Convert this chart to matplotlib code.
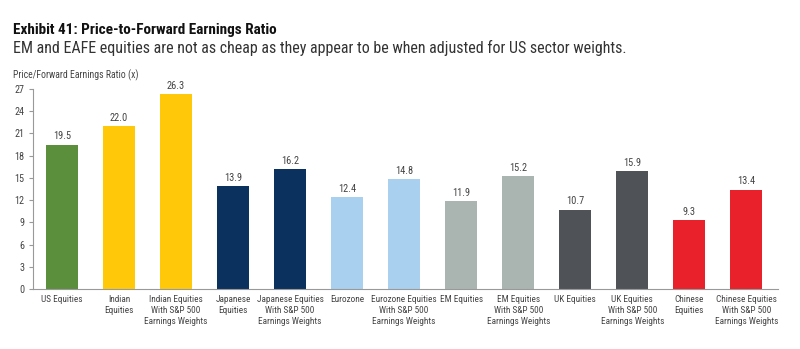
import matplotlib
matplotlib.use('Agg')
import matplotlib.pyplot as plt

plt.rcParams['font.family'] = ['Roboto Condensed', 'DejaVu Sans']

categories = ['US Equities', 'Indian\nEquities', 'Indian Equities\nWith S&P 500\nEarnings Weights',
              'Japanese\nEquities', 'Japanese Equities\nWith S&P 500\nEarnings Weights',
              'Eurozone', 'Eurozone Equities\nWith S&P 500\nEarnings Weights',
              'EM Equities', 'EM Equities\nWith S&P 500\nEarnings Weights',
              'UK Equities', 'UK Equities\nWith S&P 500\nEarnings Weights',
              'Chinese\nEquities', 'Chinese Equities\nWith S&P 500\nEarnings Weights']
pe_ratio = [19.5, 22.0, 26.3, 13.9, 16.2, 12.4, 14.8, 11.9, 15.2, 10.7, 15.9, 9.3, 13.4]
colors = ['#5b8f3b', '#ffc90a', '#ffc90a', '#0b315e', '#0b315e', '#a9d1ef', '#a9d1ef',
          '#aab5b1', '#aab5b1', '#4f5358', '#4f5358', '#e8212b', '#e8212b']
yticks = [0, 3, 6, 9, 12, 15, 18, 21, 24, 27]

fig = plt.figure(figsize=(8, 3.49), dpi=100)
ax = fig.add_axes([0.041, 0.172, 0.932, 0.573])

x = range(len(categories))
ax.bar(x, pe_ratio, width=0.56, color=colors)
for xi, v in zip(x, pe_ratio):
    ax.text(xi, v + 0.45, '%.1f' % v, ha='center', va='bottom', fontsize=7.5, color='#444444')

ax.set_xlim(-0.51, 12.56)
ax.set_ylim(0, 27)
ax.set_yticks(yticks)
ax.set_yticklabels([str(t) for t in yticks], fontsize=7.3, color='#444444')
ax.set_xticks(list(x))
ax.set_xticklabels(categories, fontsize=6.7, color='#444444', linespacing=1.3)
ax.tick_params(axis='x', length=0, pad=4)
ax.tick_params(axis='y', length=3, color='#999999', width=0.8, pad=3)
for s in ['top', 'right']:
    ax.spines[s].set_visible(False)
ax.spines['left'].set_color('#999999')
ax.spines['bottom'].set_color('#999999')
ax.spines['left'].set_linewidth(0.8)
ax.spines['bottom'].set_linewidth(0.8)

fig.text(0.016, 0.914, 'Exhibit 41: Price-to-Forward Earnings Ratio', fontsize=11,
         fontweight='bold', color='#111111', va='center')
fig.text(0.016, 0.862, 'EM and EAFE equities are not as cheap as they appear to be when adjusted for US sector weights.',
         fontsize=11.5, color='#333333', va='center')
fig.text(0.016, 0.785, 'Price/Forward Earnings Ratio (x)', fontsize=7, color='#444444', va='center')

fig.savefig('out.png', dpi=100)
